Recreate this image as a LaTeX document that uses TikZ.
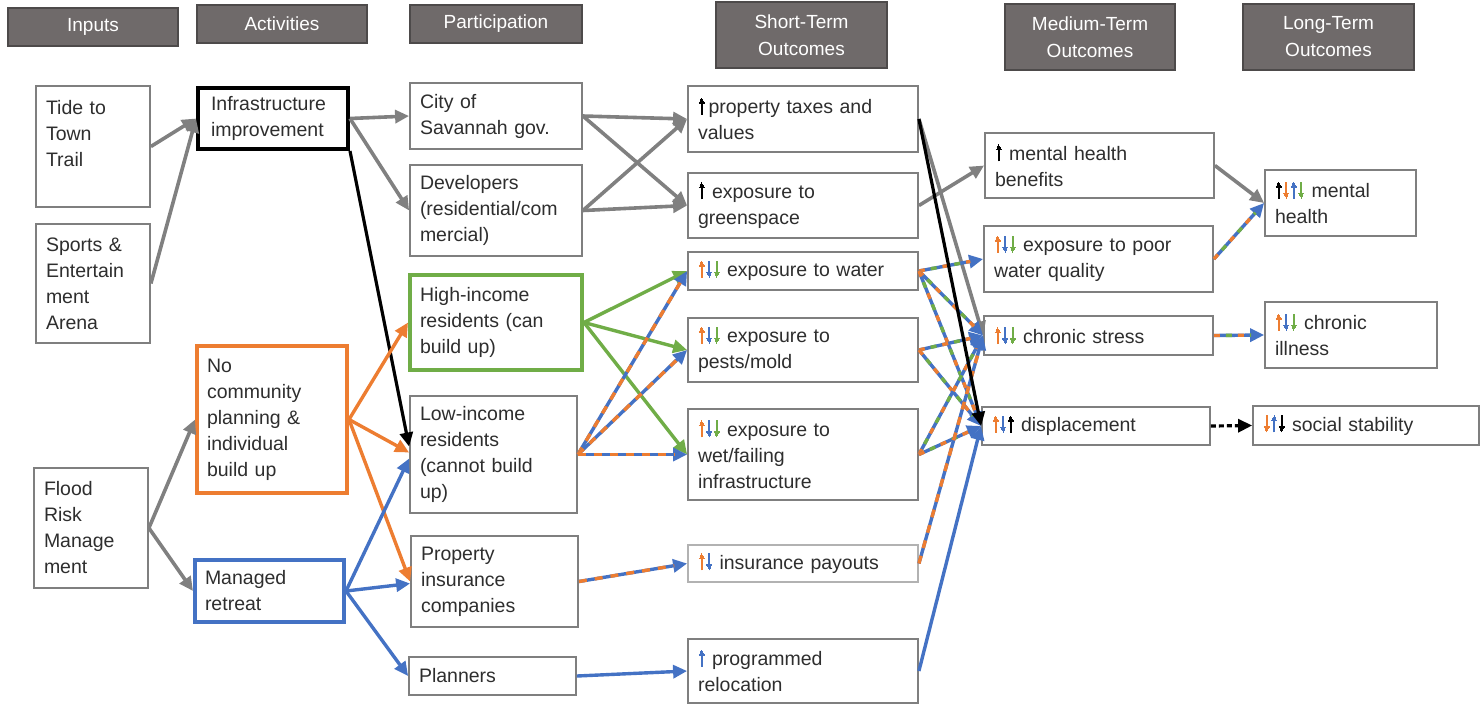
\documentclass[tikz,border=0pt]{standalone}
\usepackage{fontspec}
\usepackage{graphicx}
\setmainfont{Liberation Sans}
\usetikzlibrary{arrows.meta}

\definecolor{cgray}{HTML}{808080}
\definecolor{cborder}{HTML}{7F7F7F}
\definecolor{corange}{HTML}{ED7D31}
\definecolor{cblue}{HTML}{4472C4}
\definecolor{cgreen}{HTML}{70AD47}
\definecolor{chead}{HTML}{6F6A6A}
\definecolor{cheadline}{HTML}{4D4A4A}
\definecolor{ctext}{HTML}{2E2E2E}

% small up/down arrows built from rules (stem plus stepped head)
\newcommand\arrrow[2]{\hbox to7.5pt{\hss\vrule width#1 height#2 depth0pt\hss}}
\newcommand\upglyph{\vbox{\offinterlineskip
  \arrrow{1pt}{1.5pt}\arrrow{2.6pt}{1.5pt}\arrrow{4.2pt}{1.5pt}\arrrow{5.8pt}{1.5pt}\arrrow{2.1pt}{11pt}}}
\newcommand\downglyph{\vbox{\offinterlineskip
  \arrrow{2.1pt}{11pt}\arrrow{5.8pt}{1.5pt}\arrrow{4.2pt}{1.5pt}\arrrow{2.6pt}{1.5pt}\arrrow{1pt}{1.5pt}}}
\newcommand\ua[1]{\leavevmode{\color{#1}\raisebox{-1pt}{\upglyph}}}
\newcommand\da[1]{\leavevmode{\color{#1}\raisebox{-1pt}{\downglyph}}}

% box given by its corners in pixel-like units
\newcommand\mybox[7][]{%
  \pgfmathsetmacro\bxw{#5-#3}%
  \pgfmathsetmacro\bxh{#6-#4}%
  \pgfmathsetmacro\bxt{#5-#3-20}%
  \node[plainbox,#1,minimum width=\bxw pt,minimum height=\bxh pt,text width=\bxt pt]
    (#2) at ({(#3+#5)/2},{(#4+#6)/2}) {#7};}

% two- and three-colour connectors
\newcommand\twotone[2]{%
  \draw[blueln] (#1) -- (#2);
  \draw[corange,line width=3.4pt,dash pattern=on 8pt off 8pt,shorten >=13pt] (#1) -- (#2);}
\newcommand\tritone[2]{%
  \draw[blueln] (#1) -- (#2);
  \draw[corange,line width=3.4pt,dash pattern=on 6pt off 18pt,shorten >=13pt] (#1) -- (#2);
  \draw[cgreen,line width=3.4pt,dash pattern=on 6pt off 18pt,dash phase=12pt,shorten >=13pt] (#1) -- (#2);}

\tikzset{
  plainbox/.style={draw=cborder,line width=1.8pt,fill=white,inner xsep=10pt,inner ysep=2pt,
    align=left,text=ctext,font=\fontsize{19.5}{26}\selectfont},
  headbox/.style={fill=chead,draw=cheadline,line width=1.4pt,align=center,text=white,
    font=\fontsize{19}{27}\selectfont},
  tip/.style={-{Triangle[length=14pt,width=13pt]}},
  grayln/.style={draw=cgray,line width=3.6pt,tip},
  blackln/.style={draw=black,line width=3.2pt,tip},
  orangeln/.style={draw=corange,line width=3.4pt,tip},
  blueln/.style={draw=cblue,line width=3.4pt,tip},
  greenln/.style={draw=cgreen,line width=3.4pt,tip},
}

\begin{document}
\begin{tikzpicture}[x=1pt,y=-1pt]
\useasboundingbox (0,0) rectangle (1480,705);

% column headers
\mybox[headbox]{hIn}{8}{8}{178}{46}{Inputs}
\mybox[headbox]{hAct}{197}{5}{367}{43}{Activities}
\mybox[headbox]{hPart}{410}{5}{582}{43}{Participation}
\mybox[headbox]{hShort}{716}{2}{887}{68}{Short-Term\\Outcomes}
\mybox[headbox]{hMed}{1005}{4}{1175}{70}{Medium-Term\\Outcomes}
\mybox[headbox]{hLong}{1243}{4}{1414}{70}{Long-Term\\Outcomes}

% inputs
\mybox{tide}{36}{86}{150}{207}{Tide to\\Town\\Trail\\\mbox{}}
\mybox{sports}{36}{224}{150}{343}{Sports \&\\Entertain\\ment\\Arena}
\mybox{flood}{34}{468}{148}{588}{Flood\\Risk\\Manage\\ment}

% activities
\mybox[draw=black,line width=4pt]{infra}{198}{88}{348}{149}{\hspace{3pt}Infrastructure\\\hspace{3pt}improvement}
\mybox[draw=corange,line width=4pt]{nocomm}{197}{346}{347}{493}{No\\community\\planning \&\\individual\\build up}
\mybox[draw=cblue,line width=4pt]{managed}{195}{560}{344}{622}{Managed\\retreat}

% participation
\mybox{city}{410}{83}{582}{149}{City of\\Savannah gov.}
\mybox{dev}{410}{165}{582}{256}{Developers\\(residential/com\\mercial)}
\mybox[draw=cgreen,line width=4pt]{high}{410}{275}{582}{370}{High-income\\residents (can\\build up)}
\mybox{low}{410}{396}{577}{513}{Low-income\\residents\\(cannot build\\up)}
\mybox{prop}{411}{536}{578}{627}{Property\\insurance\\companies}
\mybox{plan}{409}{657}{576}{695}{Planners}

% short-term outcomes
\mybox{taxes}{688}{86}{918}{152}{\ua{black}\kern3pt property taxes and\\values}
\mybox{greensp}{688}{173}{918}{238}{\ua{black} exposure to\\greenspace}
\mybox{water}{688}{252}{918}{290}{\ua{corange}\da{cblue}\da{cgreen} exposure to water}
\mybox{pests}{688}{318}{918}{382}{\ua{corange}\da{cblue}\da{cgreen} exposure to\\pests/mold}
\mybox{wet}{688}{409}{918}{500}{\ua{corange}\da{cblue}\da{cgreen} exposure to\\wet/failing\\infrastructure}
\mybox[draw=cborder!60]{payouts}{688}{545}{918}{582}{\ua{corange}\da{cblue} insurance payouts}
\mybox{reloc}{688}{639}{918}{703}{\ua{cblue} programmed\\relocation}

% medium-term outcomes
\mybox{mhb}{985}{133}{1214}{198}{\ua{black} mental health\\benefits}
\mybox{poorw}{984}{226}{1213}{292}{\ua{corange}\da{cblue}\da{cgreen} exposure to poor\\water quality}
\mybox{chronic}{984}{316}{1213}{355}{\ua{corange}\da{cblue}\da{cgreen} chronic stress}
\mybox{displ}{982}{407}{1210}{445}{\ua{corange}\da{cblue}\ua{black} displacement}

% long-term outcomes
\mybox{mh}{1265}{170}{1416}{236}{\ua{black}\da{corange}\ua{cblue}\da{cgreen} mental\\health}
\mybox{illness}{1265}{302}{1437}{368}{\ua{corange}\da{cblue}\da{cgreen} chronic\\illness}
\mybox{social}{1253}{406}{1479}{445}{\da{corange}\ua{cblue}\da{black} social stability}

% inputs -> activities
\draw[grayln] (tide.east) -- (infra.west);
\draw[grayln] (sports.east) -- (infra.west);
\draw[grayln] (flood.east) -- (nocomm.west);
\draw[grayln] (flood.east) -- (managed.west);

% activities -> participation
\draw[grayln] (infra.east) -- (city.west);
\draw[grayln] (infra.east) -- (dev.west);
\draw[blackln] (infra.south east) -- ([yshift=8pt]low.west);
\draw[orangeln] (nocomm.east) -- (high.west);
\draw[orangeln] (nocomm.east) -- ([yshift=2pt]low.west);
\draw[orangeln] (nocomm.east) -- (prop.west);
\draw[blueln] (managed.east) -- ([yshift=-4pt]low.west);
\draw[blueln] (managed.east) -- ([yshift=-2pt]prop.west);
\draw[blueln] (managed.east) -- (plan.west);

% participation -> short-term outcomes
\draw[grayln] (city.east) -- (taxes.west);
\draw[grayln] (city.east) -- (greensp.west);
\draw[grayln] (dev.east) -- (taxes.west);
\draw[grayln] (dev.east) -- (greensp.west);
\draw[greenln] (high.east) -- (water.west);
\draw[greenln] (high.east) -- (pests.west);
\draw[greenln] (high.east) -- (wet.west);
\twotone{low.east}{water.west}
\twotone{low.east}{pests.west}
\twotone{low.east}{wet.west}
\twotone{prop.east}{payouts.west}
\draw[blueln] (plan.east) -- (reloc.west);

% short-term -> medium-term outcomes
\draw[grayln] (greensp.east) -- (mhb.west);
\draw[grayln] (taxes.east) -- (chronic.west);
\tritone{water.east}{poorw.west}
\tritone{water.east}{chronic.west}
\tritone{water.east}{displ.west}
\tritone{pests.east}{chronic.west}
\tritone{pests.east}{displ.west}
\tritone{wet.east}{chronic.west}
\tritone{wet.east}{displ.west}
\twotone{payouts.east}{chronic.west}
\draw[blueln] (reloc.east) -- (displ.west);
\draw[blackln] (taxes.east) -- (displ.west);

% medium-term -> long-term outcomes
\draw[grayln] (mhb.east) -- (mh.west);
\tritone{poorw.east}{mh.west}
\tritone{chronic.east}{illness.west}
\draw[blackln,dash pattern=on 5pt off 3pt] (displ.east) -- (social.west);
\end{tikzpicture}
\end{document}
